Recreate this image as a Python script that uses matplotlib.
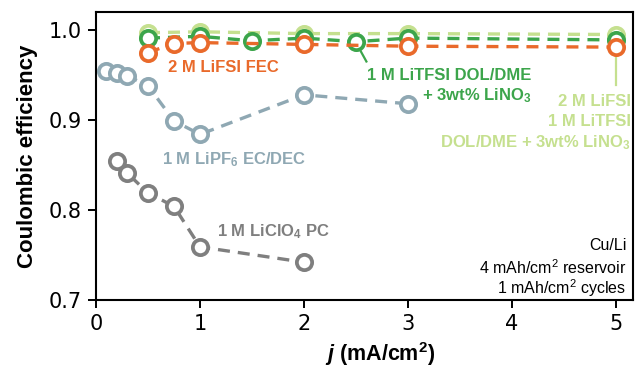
import matplotlib
matplotlib.use("Agg")
import matplotlib.pyplot as plt

# current density (mA/cm2) and coulombic efficiency for each electrolyte
j_lipf6 = [0.1, 0.2, 0.3, 0.5, 0.75, 1, 2, 3]
ce_lipf6 = [0.954, 0.952, 0.949, 0.938, 0.899, 0.884, 0.928, 0.918]

j_liclo4 = [0.2, 0.3, 0.5, 0.75, 1, 2]
ce_liclo4 = [0.854, 0.841, 0.819, 0.804, 0.759, 0.742]

j_dual = [0.5, 1, 2, 3, 5]
ce_dual = [0.997, 0.998, 0.996, 0.996, 0.995]

j_litfsi = [0.5, 1, 1.5, 2, 2.5, 3, 5]
ce_litfsi = [0.991, 0.993, 0.988, 0.991, 0.987, 0.991, 0.989]

j_fec = [0.5, 0.75, 1, 2, 3, 5]
ce_fec = [0.975, 0.985, 0.986, 0.984, 0.982, 0.981]

c_orange = '#e96a2b'
c_green = '#3ca54b'
c_light = '#c5e08f'
c_blue = '#8fa8b3'
c_grey = '#7f7f7f'

SANS = ['Liberation Sans', 'DejaVu Sans']
plt.rcParams['mathtext.fontset'] = 'custom'
plt.rcParams['mathtext.it'] = 'Liberation Sans:italic:bold'

fig = plt.figure(figsize=(6.35, 3.69), dpi=100)
ax = fig.add_axes([96 / 635, 1 - 300 / 369, 537 / 635, 288 / 369])

def series(x, y, color, z):
    ax.plot(x, y, color=color, linestyle=(0, (3.6, 2.4)), linewidth=2.4,
            marker='o', markersize=11, markerfacecolor='white',
            markeredgecolor=color, markeredgewidth=2.7, zorder=z)

series(j_dual, ce_dual, c_light, 2)
series(j_litfsi, ce_litfsi, c_green, 3)
series(j_fec, ce_fec, c_orange, 4)
series(j_lipf6, ce_lipf6, c_blue, 3)
series(j_liclo4, ce_liclo4, c_grey, 3)

# leader lines for the labels
ax.plot([2.5, 2.6], [0.986, 0.965], color=c_green, lw=1.6, zorder=2)
ax.plot([5, 5], [0.975, 0.939], color=c_light, lw=1.6, zorder=1)

ax.text(0.69, 0.958, '2 M LiFSI FEC', color=c_orange, fontsize=12,
        fontweight='bold', family=SANS, ha='left', va='center')
ax.text(4.19, 0.950, '1 M LiTFSI DOL/DME', color=c_green, fontsize=12,
        fontweight='bold', family=SANS, ha='right', va='center')
ax.text(4.19, 0.927, '+ 3wt% LiNO$_\\mathregular{3}$', color=c_green, fontsize=12,
        fontweight='bold', family=SANS, ha='right', va='center')
ax.text(5.14, 0.921, '2 M LiFSI', color=c_light, fontsize=12,
        fontweight='bold', family=SANS, ha='right', va='center')
ax.text(5.14, 0.898, '1 M LiTFSI', color=c_light, fontsize=12,
        fontweight='bold', family=SANS, ha='right', va='center')
ax.text(5.14, 0.875, 'DOL/DME + 3wt% LiNO$_\\mathregular{3}$', color=c_light,
        fontsize=12, fontweight='bold', family=SANS, ha='right', va='center')
ax.text(0.635, 0.856, '1 M LiPF$_\\mathregular{6}$ EC/DEC', color=c_blue, fontsize=12,
        fontweight='bold', family=SANS, ha='left', va='center')
ax.text(1.16, 0.776, '1 M LiClO$_\\mathregular{4}$ PC', color=c_grey, fontsize=12,
        fontweight='bold', family=SANS, ha='left', va='center')

ax.text(5.1, 0.760, 'Cu/Li', fontsize=11.5, family=SANS, ha='right', va='center')
ax.text(5.1, 0.736, '4 mAh/cm$^\\mathregular{2}$ reservoir', fontsize=11.5, family=SANS,
        ha='right', va='center')
ax.text(5.1, 0.713, '1 mAh/cm$^\\mathregular{2}$ cycles', fontsize=11.5, family=SANS,
        ha='right', va='center')

ax.set_xlim(0, 537 / 104)
ax.set_ylim(0.7, 1.02)
ax.set_xticks([0, 1, 2, 3, 4, 5])
ax.set_yticks([0.7, 0.8, 0.9, 1.0])
ax.set_yticklabels(['0.7', '0.8', '0.9', '1.0'])
ax.tick_params(direction='out', length=6, width=1.4, labelsize=15, pad=4)
for s in ax.spines.values():
    s.set_linewidth(1.5)

ax.set_ylabel('Coulombic efficiency', fontsize=16, fontweight='bold',
              family=SANS, labelpad=8)
ax.set_xlabel('$j$ (mA/cm$^\\mathregular{2}$)', fontsize=15.5,
              fontweight='bold', family=SANS)
ax.xaxis.set_label_coords((380 - 96) / 537, -(354 - 300) / 288)
ax.xaxis.label.set_va('center')

fig.savefig('out.png', dpi=100)
